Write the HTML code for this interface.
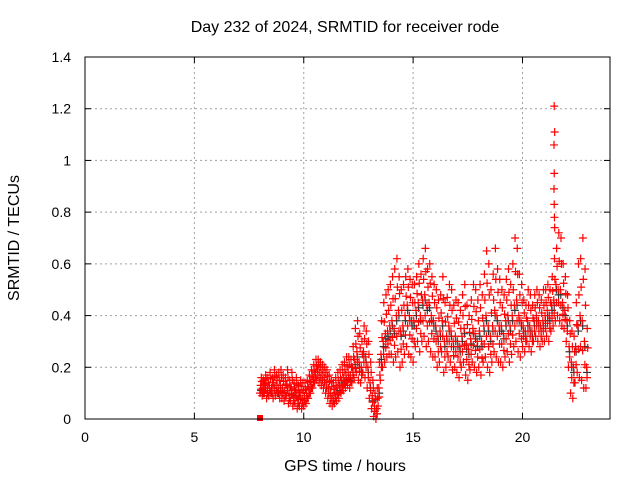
<!DOCTYPE html>
<html><head><meta charset="utf-8"><style>
body{margin:0;background:#fff}
svg{display:block;font-family:"Liberation Sans",Arial,sans-serif}
</style></head><body>
<svg id="chart" width="640" height="480">
<text x="345" y="32" font-size="16" text-anchor="middle">Day 232 of 2024, SRMTID for receiver rode</text>
<text x="345" y="471" font-size="16" text-anchor="middle">GPS time / hours</text>
<text transform="translate(19,238) rotate(-90)" font-size="16" text-anchor="middle">SRMTID / TECUs</text>
<g id="grid"></g><g id="marks"></g><g id="axes"></g>
</svg>
<script>
const xTicks=[0,5,10,15,20];
const yTicks=[0,0.2,0.4,0.6,0.8,1,1.2,1.4];
const yTickLabels=["0","0.2","0.4","0.6","0.8","1","1.2","1.4"];
const startHour=8.0, stepHour=0.1;
const loVals=[.10,.09,.10,.08,.09,.10,.08,.09,.10,.08,.08,.07,.09,.06,.07,.05,.06,.04,.05,.04,.05,.06,.08,.10,.12,.14,.15,.14,.13,.12,.10,.08,.06,.05,.06,.07,.08,.10,.11,.12,.13,.12,.14,.16,.18,.15,.14,.18,.16,.12,.08,.04,.01,.00,.05,.15,.20,.22,.24,.25,.25,.22,.24,.26,.20,.22,.25,.28,.25,.24,.22,.28,.30,.26,.30,.32,.28,.30,.26,.24,.24,.20,.22,.26,.18,.20,.24,.22,.19,.20,.18,.16,.20,.22,.17,.15,.19,.22,.20,.18,.20,.17,.22,.24,.20,.18,.22,.26,.24,.22,.22,.20,.24,.26,.22,.25,.28,.30,.26,.24,.28,.26,.30,.28,.26,.30,.32,.30,.28,.30,.30,.32,.30,.34,.36,.38,.40,.38,.36,.35,.30,.20,.10,.08,.14,.18,.16,.15,.12,.12];
const midVals=[.13,.12,.14,.12,.13,.12,.14,.13,.12,.13,.12,.11,.13,.10,.12,.09,.11,.08,.10,.08,.09,.10,.12,.14,.16,.18,.19,.18,.17,.16,.14,.12,.10,.09,.10,.12,.13,.15,.16,.17,.18,.17,.20,.23,.26,.22,.20,.26,.24,.20,.14,.09,.05,.04,.12,.25,.30,.33,.34,.36,.38,.35,.40,.42,.34,.36,.40,.44,.40,.38,.38,.42,.45,.40,.46,.48,.44,.45,.40,.38,.36,.32,.34,.38,.30,.32,.36,.34,.30,.32,.30,.28,.32,.35,.29,.27,.31,.35,.33,.30,.34,.30,.36,.40,.36,.32,.36,.42,.40,.36,.36,.33,.38,.40,.36,.40,.44,.46,.40,.38,.36,.34,.38,.36,.34,.38,.40,.38,.36,.38,.40,.42,.40,.44,.46,.52,.50,.50,.45,.42,.38,.28,.22,.20,.28,.36,.40,.38,.30,.20];
const hiVals=[.16,.15,.17,.16,.18,.16,.19,.17,.18,.19,.17,.16,.19,.15,.18,.14,.16,.13,.15,.14,.14,.15,.17,.19,.21,.23,.23,.22,.21,.20,.19,.17,.15,.14,.16,.18,.19,.21,.22,.24,.24,.23,.28,.35,.38,.33,.30,.36,.34,.30,.22,.15,.10,.12,.22,.38,.45,.48,.50,.52,.55,.58,.62,.55,.50,.52,.55,.58,.54,.52,.52,.55,.60,.56,.62,.66,.58,.60,.55,.52,.50,.46,.48,.55,.45,.47,.52,.50,.44,.46,.45,.42,.48,.52,.44,.40,.46,.52,.50,.46,.52,.48,.56,.65,.60,.50,.56,.66,.58,.54,.50,.48,.54,.58,.52,.60,.70,.66,.56,.52,.46,.44,.50,.48,.44,.48,.50,.48,.46,.50,.50,.52,.50,.55,.62,.66,.72,.70,.60,.55,.48,.38,.34,.32,.45,.60,.62,.70,.58,.35];
const spikeHours=[21.45,21.47,21.44,21.45,21.44,21.45,21.46,21.47];
const spikeVals=[1.21,1.11,1.06,0.95,0.89,0.83,0.78,0.74];
const NS="http://www.w3.org/2000/svg";
const X0=85,X1=610,Y0=419,Y1=57,XMAX=24,YMAX=1.4;
const sx=h=>X0+(X1-X0)*h/XMAX, sy=v=>Y0-(Y0-Y1)*v/YMAX;
function mk(tag,attrs,parent){const e=document.createElementNS(NS,tag);for(const k in attrs)e.setAttribute(k,attrs[k]);parent.appendChild(e);return e;}
const grid=document.getElementById('grid'),axes=document.getElementById('axes'),marks=document.getElementById('marks');
xTicks.forEach((t,i)=>{const x=sx(t);
 if(t>0){const g=mk('line',{x1:x,x2:x,y1:Y0,y2:Y1,stroke:'#a0a0a0','stroke-dasharray':'2,3'},grid);}
 mk('line',{x1:x,x2:x,y1:Y0,y2:Y0-6,stroke:'#000'},axes);mk('line',{x1:x,x2:x,y1:Y1,y2:Y1+6,stroke:'#000'},axes);
 const l=mk('text',{x:x,y:442,'font-size':14,'text-anchor':'middle'},axes);l.textContent=String(t);
 
 });
yTicks.forEach((t,i)=>{const y=sy(t);
 if(t>0&&t<YMAX){const g=mk('line',{x1:X0,x2:X1,y1:y,y2:y,stroke:'#a0a0a0','stroke-dasharray':'2,3'},grid);}
 mk('line',{x1:X0,x2:X0+6,y1:y,y2:y,stroke:'#000'},axes);mk('line',{x1:X1,x2:X1-6,y1:y,y2:y,stroke:'#000'},axes);
 const l=mk('text',{x:71,y:y+5,'font-size':14,'text-anchor':'end'},axes);l.textContent=yTickLabels[i];
 
 });
const frame=mk('rect',{x:X0,y:Y1,width:X1-X0,height:Y0-Y1,fill:'none',stroke:'#000'},axes);


function cross(h,v,color,name){const x=sx(h),y=sy(v);
 const p=mk('path',{d:`M${x-4},${y}h8M${x},${y-4}v8`,stroke:color,'stroke-width':1.2,fill:'none'},marks);
 
 }
midVals.forEach((v,i)=>cross(startHour+i*stepHour+0.05,v-0.02,'#333','black-point'));
for(let i=0;i<midVals.length;i++){const h=startHour+i*stepHour;
 cross(h,loVals[i],'#f00','red-point');cross(h+0.03,midVals[i],'#f00','red-point');cross(h+0.06,hiVals[i],'#f00','red-point');
 cross(h+0.05,(loVals[i]+midVals[i])/2,'#f00','red-point');cross(h+0.08,(midVals[i]+hiVals[i])/2,'#f00','red-point');}
spikeHours.forEach((h,i)=>cross(h,spikeVals[i],'#f00','spike-point'));
const sq=mk('rect',{x:sx(8)-3,y:sy(0)-4,width:6,height:6,fill:'#f00'},marks);


</script>
</body></html>
